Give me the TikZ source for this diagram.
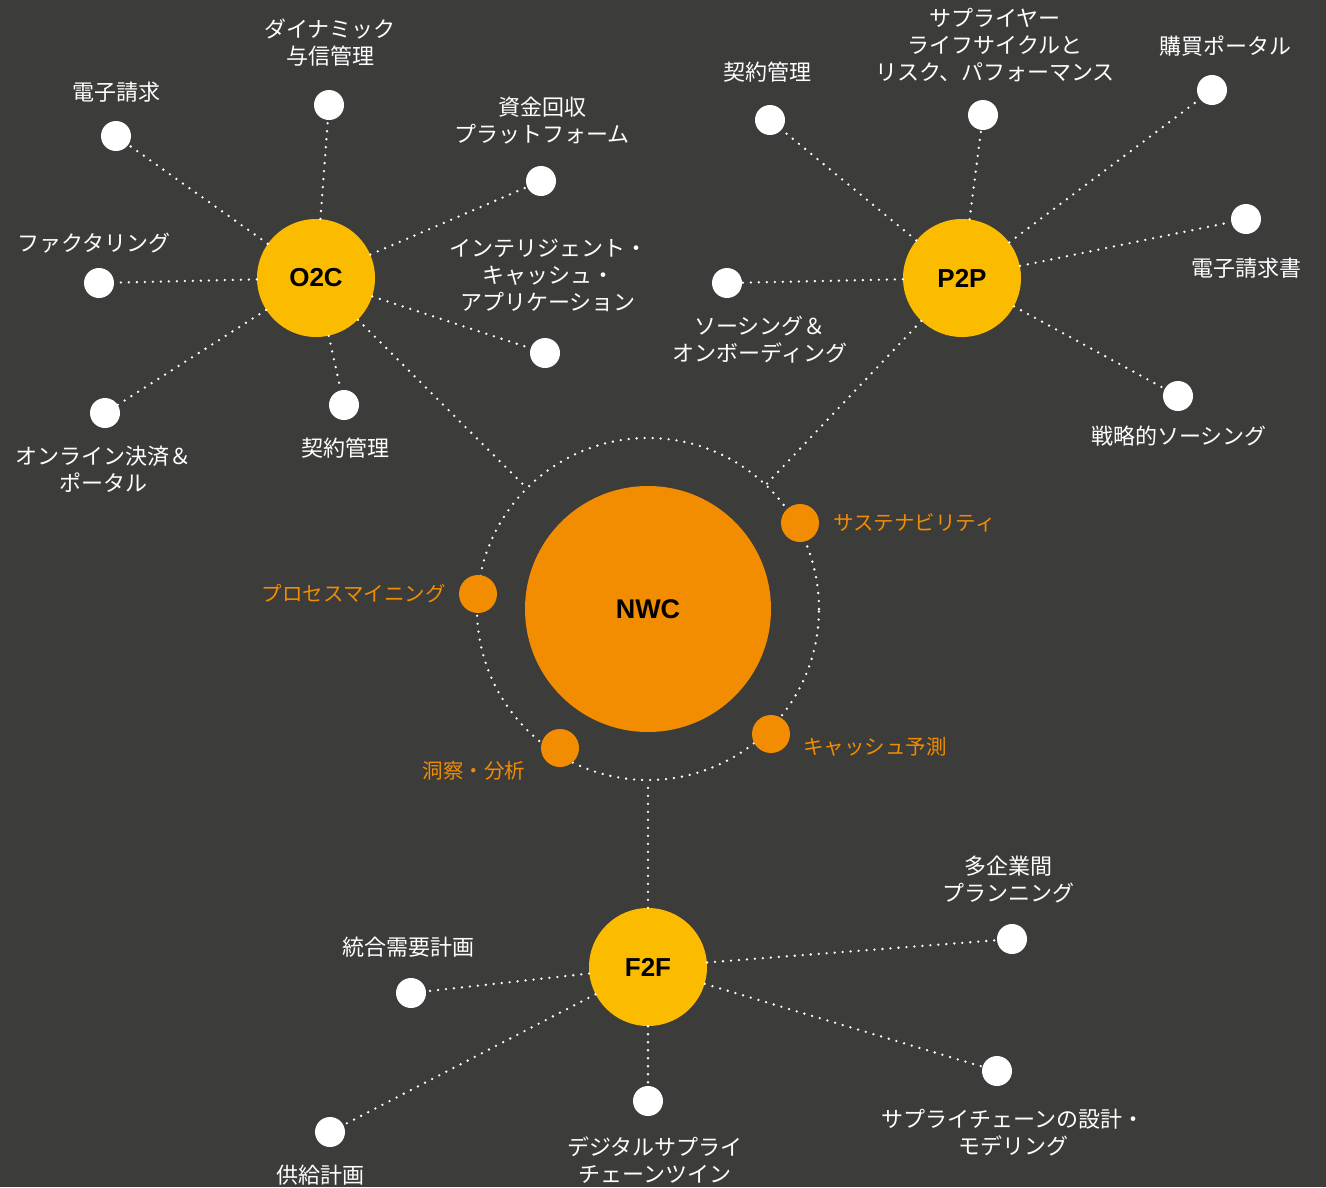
\documentclass[tikz,border=0pt]{standalone}
\usepackage{fontspec}
\setmainfont{Noto Sans CJK JP}
\newfontfamily\hubfont{Liberation Sans}
\definecolor{bg}{HTML}{3C3C3B}
\definecolor{hubyellow}{HTML}{FBBC00}
\definecolor{accent}{HTML}{F28C00}
\begin{document}
\begin{tikzpicture}[x=1pt, y=-1pt,
  hub/.style={circle, fill=hubyellow, minimum size=118pt, inner sep=0pt,
    font=\hubfont\bfseries\fontsize{26}{26}\selectfont},
  core/.style={circle, fill=accent, minimum size=246pt, inner sep=0pt,
    font=\hubfont\bfseries\fontsize{27}{27}\selectfont},
  leaf/.style={circle, fill=white, minimum size=30pt, inner sep=0pt},
  topic/.style={circle, fill=accent, minimum size=38pt, inner sep=0pt},
  lbl/.style={text=white, align=center, inner sep=0pt,
    font=\fontsize{22}{27}\selectfont},
  olbl/.style={text=accent, align=center, inner sep=0pt,
    font=\fontsize{20.5}{25}\selectfont},
  link/.style={white, line width=2.6pt, line cap=round, dash pattern=on 0pt off 8pt},
  orbit/.style={circle, draw=white, line width=2.6pt, line cap=round,
    dash pattern=on 0pt off 8pt, minimum size=342pt, inner sep=0pt}]

% canvas
\fill[bg] (0,0) rectangle (1326,1187);
\useasboundingbox (0,0) rectangle (1326,1187);

% central cluster
\node[orbit] (ring) at (648,609) {};
\node[core] (nwc) at (648,609) {NWC};
\node[topic] (sus) at (800,523) {};
\node[topic] (pm)  at (478,594) {};
\node[topic] (ins) at (560,748) {};
\node[topic] (cf)  at (771,734) {};
\node[olbl, anchor=west] (sustxt) at (833,523) {サステナビリティ};
\node[olbl, anchor=east] (pmtxt)  at (446,594) {プロセスマイニング};
\node[olbl] (instxt) at (474,771) {洞察・分析};
\node[olbl, anchor=west] (cftxt)  at (803,747) {キャッシュ予測};

% hubs
\node[hub] (o2c) at (316,278) {O2C};
\node[hub] (p2p) at (962,278) {P2P};
\node[hub] (f2f) at (648,967) {F2F};

\draw[link] (o2c) -- (ring);
\draw[link] (p2p) -- (ring);
\draw[link] (f2f) -- (ring);

% O2C leaves
\node[leaf] (o1) at (116,136) {};
\node[leaf] (o2) at (329,105) {};
\node[leaf] (o3) at (541,181) {};
\node[leaf] (o4) at (99,283) {};
\node[leaf] (o5) at (545,353) {};
\node[leaf] (o6) at (105,413) {};
\node[leaf] (o7) at (344,405) {};
\node[lbl] (o1t) at (116,92) {電子請求};
\node[lbl] (o2t) at (330,43) {ダイナミック\\与信管理};
\node[lbl] (o3t) at (542,121) {資金回収\\プラットフォーム};
\node[lbl] (o4t) at (94,243) {ファクタリング};
\node[lbl] (o5t) at (548,275) {インテリジェント・\\キャッシュ・\\アプリケーション};
\node[lbl] (o6t) at (104,469) {オンライン決済＆\\ポータル};
\node[lbl] (o7t) at (345,448) {契約管理};
\foreach \n in {o1,o2,o3,o4,o5,o6,o7} \draw[link] (o2c) -- (\n);

% P2P leaves
\node[leaf] (p1) at (770,120) {};
\node[leaf] (p2) at (983,115) {};
\node[leaf] (p3) at (1212,90) {};
\node[leaf] (p4) at (1246,219) {};
\node[leaf] (p5) at (727,283) {};
\node[leaf] (p6) at (1178,396) {};
\node[lbl] (p1t) at (767,72) {契約管理};
\node[lbl] (p2t) at (995,45) {サプライヤー\\ライフサイクルと\\リスク、パフォーマンス};
\node[lbl] (p3t) at (1225,46) {購買ポータル};
\node[lbl] (p4t) at (1246,268) {電子請求書};
\node[lbl] (p5t) at (760,340) {ソーシング＆\\オンボーディング};
\node[lbl] (p6t) at (1179,436) {戦略的ソーシング};
\foreach \n in {p1,p2,p3,p4,p5,p6} \draw[link] (p2p) -- (\n);

% F2F leaves
\node[leaf] (f1) at (1012,939) {};
\node[leaf] (f2) at (411,993) {};
\node[leaf] (f3) at (330,1132) {};
\node[leaf] (f4) at (648,1101) {};
\node[leaf] (f5) at (997,1071) {};
\node[lbl] (f1t) at (1008,879) {多企業間\\プランニング};
\node[lbl] (f2t) at (408,947) {統合需要計画};
\node[lbl] (f3t) at (320,1175) {供給計画};
\node[lbl] (f4t) at (655,1160) {デジタルサプライ\\チェーンツイン};
\node[lbl] (f5t) at (1013,1133) {サプライチェーンの設計・\\モデリング};
\foreach \n in {f1,f2,f3,f4,f5} \draw[link] (f2f) -- (\n);
\end{tikzpicture}
\end{document}
